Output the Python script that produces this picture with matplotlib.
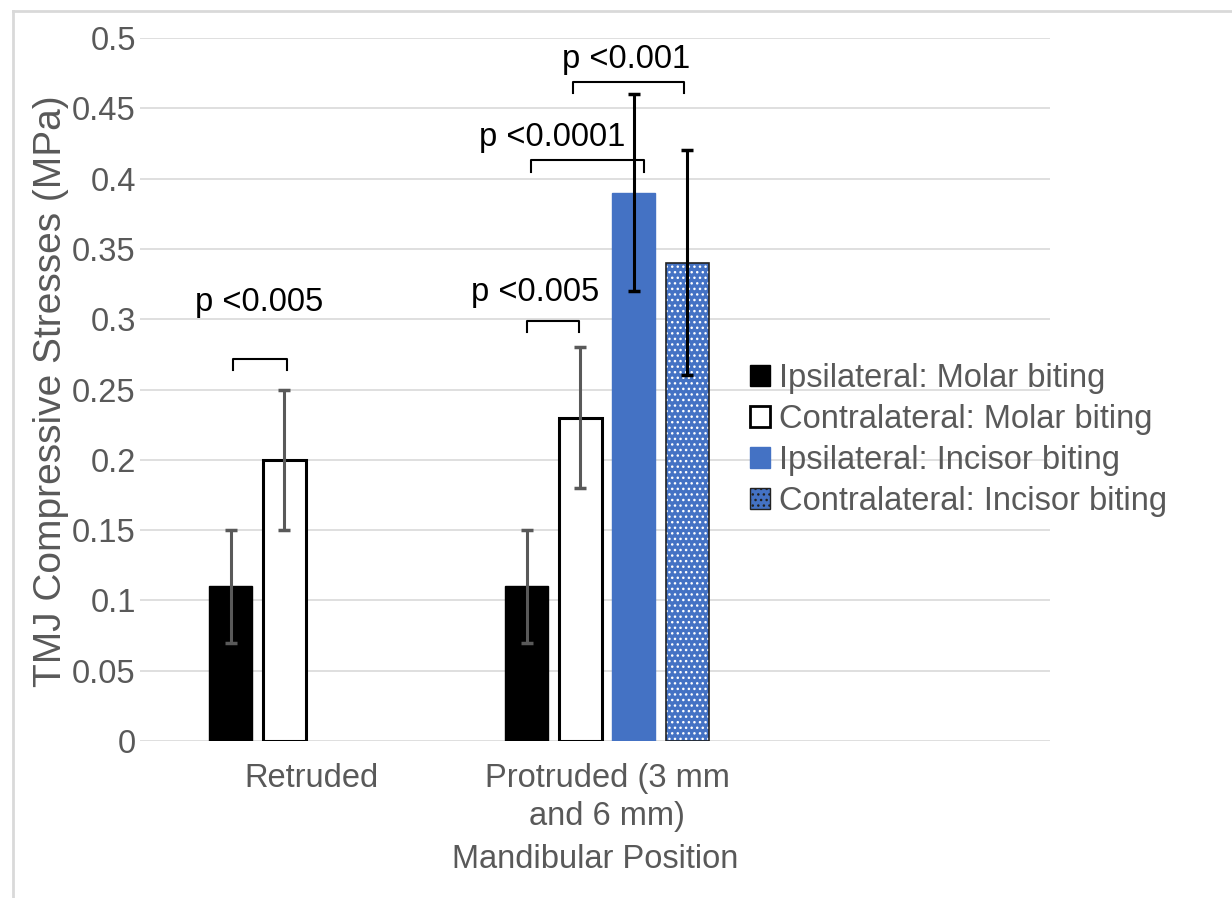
import numpy as np
import matplotlib
matplotlib.use('Agg')
import matplotlib.pyplot as plt
from matplotlib.patches import Patch
from matplotlib.lines import Line2D

plt.rcParams['font.family'] = ['Liberation Sans', 'DejaVu Sans']
plt.rcParams['hatch.linewidth'] = 1.0

categories = ['Retruded', 'Protruded (3 mm\nand 6 mm)']
series = ['Ipsilateral: Molar biting', 'Contralateral: Molar biting',
          'Ipsilateral: Incisor biting', 'Contralateral: Incisor biting']
# values per series, one per category (nan = no bar)
means = [[0.11, 0.11], [0.20, 0.23], [np.nan, 0.39], [np.nan, 0.34]]
errs = [[0.04, 0.04], [0.05, 0.05], [np.nan, 0.07], [np.nan, 0.08]]

# significance brackets: x1, x2, y, label, label x, label y
brackets = [(-0.264, -0.081, 0.272, 'p <0.005', -0.174, 0.312),
            (0.730, 0.905, 0.299, 'p <0.005', 0.757, 0.319),
            (0.743, 1.125, 0.413, 'p <0.0001', 0.814, 0.429),
            (0.885, 1.260, 0.469, 'p <0.001', 1.064, 0.485)]

GRAY = '#595959'
BLUE = '#4472C4'
FS = 23.5

fig = plt.figure(figsize=(12.32, 8.98), dpi=100)
ax = fig.add_axes([140 / 1232, 1 - 741 / 898, 910 / 1232, 703 / 898])

x = np.arange(len(categories))
step, w = 0.181, 0.145
offs = (np.arange(4) - 1.5) * step

styles = [dict(color='black', edgecolor='black'),
          dict(color='white', edgecolor='black', linewidth=2.2),
          dict(color=BLUE, edgecolor=BLUE),
          dict(color=BLUE, edgecolor='white', hatch='...', linewidth=0)]
ecols = [GRAY, GRAY, 'black', 'black']

for i in range(4):
    ax.bar(x + offs[i], means[i], w, zorder=2, **styles[i])
    if i == 3:
        ax.bar(x + offs[i], means[i], w, fill=False, edgecolor='#222222', linewidth=1.2, zorder=3)
    ax.errorbar(x + offs[i], means[i], yerr=errs[i], fmt='none', ecolor=ecols[i],
                elinewidth=2.2, capsize=4.5, capthick=2.5, zorder=4)

leg_h = 0.008
for x1, x2, y, lab, tx, ty in brackets:
    ax.plot([x1, x1, x2, x2], [y - leg_h, y, y, y - leg_h], color='black', lw=1.5, zorder=5)
    ax.text(tx, ty, lab, ha='center', va='center', fontsize=FS, color='black')

ax.set_ylim(0, 0.5)
ax.set_xlim(-0.578, 2.497)
ax.set_yticks(np.arange(0, 0.501, 0.05))
ax.set_yticklabels(['0', '0.05', '0.1', '0.15', '0.2', '0.25', '0.3', '0.35', '0.4', '0.45', '0.5'])
ax.set_xticks(x)
ax.set_xticklabels(categories, fontsize=FS, color=GRAY, linespacing=1.3)
ax.tick_params(axis='y', labelsize=FS, labelcolor=GRAY, length=0, pad=3)
ax.tick_params(axis='x', length=0, pad=16)
ax.grid(axis='y', color='#d9d9d9', lw=1.2, zorder=0)
ax.set_axisbelow(True)
for s in ax.spines.values():
    s.set_visible(False)
ax.set_ylabel('TMJ Compressive Stresses (MPa)', fontsize=28, color=GRAY)
ax.yaxis.set_label_coords(-0.078, 0.497)
ax.set_xlabel('Mandibular Position', fontsize=FS, color=GRAY, labelpad=8)

handles = [Patch(facecolor='black', edgecolor='black'),
           Patch(facecolor='white', edgecolor='black', linewidth=2),
           Patch(facecolor=BLUE, edgecolor=BLUE),
           Patch(facecolor=BLUE, edgecolor='#222222', hatch='...', linewidth=1)]
ax.legend(handles, series, loc='center left', bbox_to_anchor=(750 / 1232, 1 - 440 / 898),
          bbox_transform=fig.transFigure, frameon=False, fontsize=FS, labelcolor=GRAY,
          handlelength=0.6, handleheight=0.6, handletextpad=0.3, labelspacing=0.3,
          borderaxespad=0, borderpad=0)

# chart border (light gray, top and left)
fig.add_artist(Line2D([13 / 1232, 13 / 1232], [0, 1 - 11 / 898], color='#d9d9d9', lw=2))
fig.add_artist(Line2D([13 / 1232, 1], [1 - 11 / 898, 1 - 11 / 898], color='#d9d9d9', lw=2))

fig.savefig('out.png', dpi=100)
